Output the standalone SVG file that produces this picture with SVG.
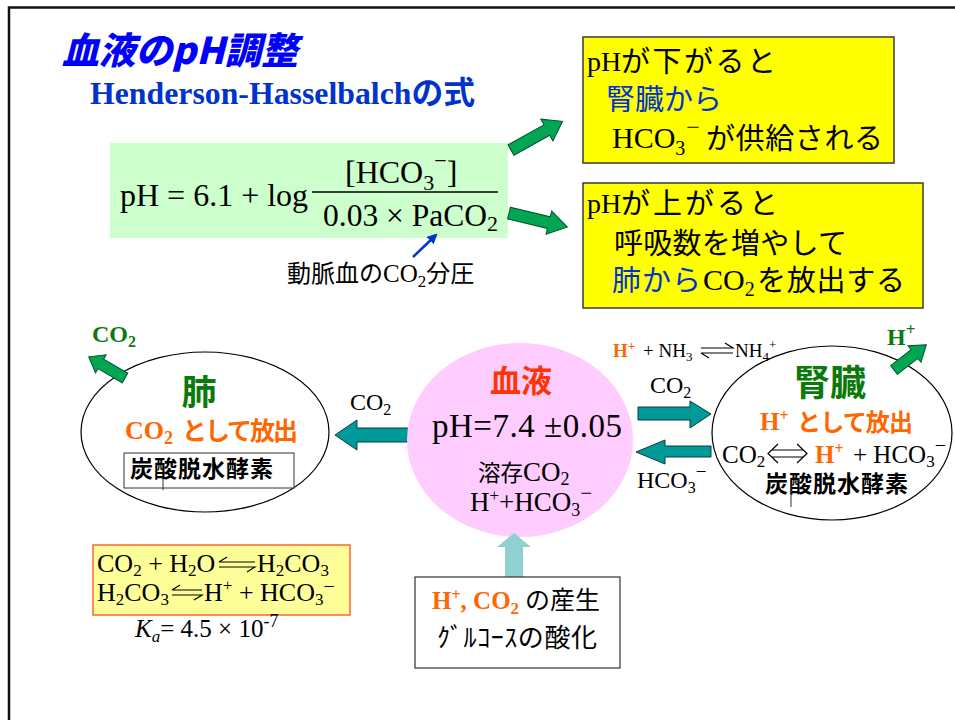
<svg xmlns="http://www.w3.org/2000/svg" width="955" height="720" viewBox="0 0 955 720">
<defs>
<style>
.t{font-family:"Liberation Serif","Noto Sans CJK JP",serif}
.g{font-family:"Noto Sans CJK JP",sans-serif}
.b{font-weight:bold}
.org{fill:#FF6600}
.grn{fill:#0B7A0B}
.blu{fill:#0033CC}
.fat{fill:#00A651;stroke:#00512A;stroke-width:1}
.teal{fill:#009999;stroke:#0D3B3B;stroke-width:1}
.eq{fill:none;stroke:#000;stroke-width:1.2}
.ybox{fill:#FFFF00;stroke:#3A3A3A;stroke-width:1.5}
.frame{fill:none;stroke:#111;stroke-width:2.5}
</style>
<marker id="ah" viewBox="0 0 10 10" refX="8" refY="5" markerWidth="4" markerHeight="4" orient="auto">
<path d="M0,0 L10,5 L0,10 z" fill="#0033CC"/>
</marker>
</defs>
<rect width="955" height="720" fill="#fff"/>
<g id="frame">
<path class="frame" d="M9,720 V7.5 H955"/>
</g>
<g id="title">
<text class="g" x="62" y="64" font-size="37" font-weight="900" font-style="italic" fill="#0000FF" textLength="236" lengthAdjust="spacingAndGlyphs">血液のpH調整</text>
<text class="t b" x="90" y="104" font-size="32" fill="#0033CC" textLength="385" lengthAdjust="spacingAndGlyphs">Henderson-Hasselbalchの式</text>
</g>
<g id="formula">
<rect x="110" y="143" width="398" height="95" fill="#CCFFCC"/>
<text class="t" x="120" y="206" font-size="32">pH = 6.1 + log</text>
<text class="t" x="345" y="183" font-size="32">[HCO<tspan font-size="22" dy="7">3</tspan><tspan font-size="22" dy="-22">−</tspan><tspan dy="15">]</tspan></text>
<line x1="312" y1="192" x2="498" y2="192" stroke="#000" stroke-width="1.5"/>
<text class="t" x="323" y="226" font-size="31.5">0.03 × PaCO<tspan font-size="22" dy="5">2</tspan></text>
<text class="t" x="287" y="282" font-size="25"><tspan class="g" font-size="24">動脈血の</tspan>CO<tspan font-size="17" dy="5">2</tspan><tspan class="g" font-size="24" dy="-5">分圧</tspan></text>
</g>
<g id="box-down">
<rect class="ybox" x="583" y="37" width="311" height="126"/>
<text class="t" x="587" y="71" font-size="28">pH</text>
<text class="g" x="621" y="72" font-size="29" textLength="155">が下がると</text>
<text class="g blu" x="606" y="110" font-size="29" textLength="116">腎臓から</text>
<text class="t" x="612" y="148" font-size="30">HCO<tspan font-size="20" dy="7">3</tspan><tspan font-size="24" dx="1" dy="-20">−</tspan></text>
<text class="g" x="706" y="149" font-size="29" textLength="177">が供給される</text>
</g>
<g id="box-up">
<rect class="ybox" x="583" y="183" width="340" height="125"/>
<text class="t" x="587" y="213" font-size="28">pH</text>
<text class="g" x="621" y="214" font-size="29" textLength="157">が上がると</text>
<text class="g" x="614" y="254" font-size="29" textLength="233">呼吸数を増やして</text>
<text class="g blu" x="612" y="291" font-size="29" textLength="89">肺から</text>
<text class="t" x="703" y="290" font-size="30">CO<tspan font-size="20" dy="6">2</tspan></text>
<text class="g" x="757" y="291" font-size="29" textLength="148">を放出する</text>
</g>
<g id="lung">
<ellipse cx="205" cy="432" rx="124" ry="80" fill="#fff" stroke="#000" stroke-width="1.2"/>
<text class="t b grn" x="92" y="342" font-size="24">CO<tspan font-size="16" dy="5">2</tspan></text>
<text class="g b grn" x="199" y="405" font-size="35" text-anchor="middle">肺</text>
<text class="t b org" x="125" y="439" font-size="26">CO<tspan font-size="18" dy="5">2</tspan></text>
<text class="g b org" x="182" y="440" font-size="25" textLength="116">として放出</text>
<rect x="124" y="453" width="170" height="35" fill="#fff" stroke="#333" stroke-width="1"/>
<text class="g b" x="130" y="477" font-size="23" textLength="143">炭酸脱水酵素</text>
<line x1="163" y1="478" x2="163" y2="490" stroke="#333" stroke-width="1"/>
</g>
<g id="kidney">
<ellipse cx="832" cy="433" rx="120" ry="87" fill="#fff" stroke="#000" stroke-width="1.2"/>
<text class="t b grn" x="887" y="345" font-size="24">H<tspan font-size="17" dy="-10">+</tspan></text>
<text class="g b grn" x="830" y="396" font-size="36" text-anchor="middle">腎臓</text>
<text class="t b org" x="760" y="430" font-size="25">H<tspan font-size="16" dy="-9">+</tspan></text>
<text class="g b org" x="797" y="431" font-size="24" textLength="116">として放出</text>
<text class="t" x="722" y="463" font-size="25">CO<tspan font-size="17" dy="4">2</tspan></text>
<path class="eq" d="M772,450 H803 M772,457 H803 M778,444 L768,453.5 L778,463 M797,444 L807,453.5 L797,463"/>
<text class="t b org" x="815" y="463" font-size="25">H<tspan font-size="16" dy="-9">+</tspan></text>
<text class="t" x="853" y="463" font-size="25">+ HCO<tspan font-size="17" dy="4">3</tspan><tspan font-size="20" dy="-15">−</tspan></text>
<text class="g b" x="765" y="492" font-size="23" textLength="143">炭酸脱水酵素</text>
<line x1="791" y1="484" x2="791" y2="507" stroke="#333" stroke-width="1"/>
<text class="t b org" x="613" y="357" font-size="19">H<tspan font-size="13" dy="-7">+</tspan></text>
<text class="t" x="643" y="357" font-size="19">+ NH<tspan font-size="13" dy="4">3</tspan></text>
<path class="eq" d="M701,348 H733 L725,343 M701,353 H733 M701,353 L709,358"/>
<text class="t" x="735" y="357" font-size="19">NH<tspan font-size="13" dy="4">4</tspan><tspan font-size="13" dy="-12">+</tspan></text>
</g>
<g id="connectors">
<polygon class="fat" points="0,-6 41,-6 41,-12.5 59,0 41,12.5 41,6 0,6" transform="translate(511,150) rotate(-29.1)"/>
<polygon class="fat" points="0,-6 41,-6 41,-12 60,0 41,12 41,6 0,6" transform="translate(509,213) rotate(13.6)"/>
<polygon class="fat" points="0,-5.5 28,-5.5 28,-10.5 42,0 28,10.5 28,5.5 0,5.5" transform="translate(125,378) rotate(-149.7)"/>
<polygon class="fat" points="0,-5.5 26,-5.5 26,-10.5 41,0 26,10.5 26,5.5 0,5.5" transform="translate(894,370) rotate(-38)"/>
<line x1="413" y1="257" x2="436" y2="235" stroke="#0033CC" stroke-width="2.5" marker-end="url(#ah)"/>
<polygon class="teal" points="409,428 357,428 357,420 335,435 357,450 357,442 409,442"/>
<polygon class="teal" points="638,407 690,407 690,401 711,414 690,428 690,420 638,420"/>
<polygon class="teal" points="711,446 665,446 665,440 636,452 665,464 665,457 711,457"/>
<text class="t" x="350" y="410" font-size="24">CO<tspan font-size="16" dy="5">2</tspan></text>
<text class="t" x="650" y="393" font-size="24">CO<tspan font-size="16" dy="5">2</tspan></text>
<text class="t" x="637" y="488" font-size="24">HCO<tspan font-size="16" dy="5">3</tspan><tspan font-size="19" dy="-15">−</tspan></text>
</g>
<g id="blood">
<ellipse cx="520" cy="440" rx="113" ry="97" fill="#FFCCFF"/>
<text class="g b" x="521" y="392" font-size="31" fill="#FF3300" text-anchor="middle">血液</text>
<text class="t" x="432" y="437" font-size="33" textLength="190">pH=7.4  ±0.05</text>
<text class="g" x="478" y="481" font-size="22.5">溶存</text>
<text class="t" x="523" y="481" font-size="27">CO<tspan font-size="18" dy="4">2</tspan></text>
<text class="t" x="470" y="511" font-size="27">H<tspan font-size="17" dy="-10">+</tspan><tspan dy="10">+HCO</tspan><tspan font-size="18" dy="5">3</tspan><tspan font-size="21" dy="-16">−</tspan></text>
</g>
<g id="source-arrow">
<polygon points="505,578 505,547 497,547 514,533 531,547 523,547 523,578" fill="#8FD0D0"/>
</g>
<g id="reaction-box">
<rect x="93" y="545" width="257" height="70" fill="#FFFF99" stroke="#FF6633" stroke-width="1.5"/>
<text class="t" x="97" y="572" font-size="26">CO<tspan font-size="17" dy="4">2</tspan><tspan dy="-4"> + H</tspan><tspan font-size="17" dy="4">2</tspan><tspan dy="-4">O</tspan></text>
<path class="eq" d="M219,562 H255 M219,562 L227,557 M219,567 H255 L247,572"/>
<text class="t" x="257" y="572" font-size="26">H<tspan font-size="17" dy="4">2</tspan><tspan dy="-4">CO</tspan><tspan font-size="17" dy="4">3</tspan></text>
<text class="t" x="97" y="601" font-size="26">H<tspan font-size="17" dy="4">2</tspan><tspan dy="-4">CO</tspan><tspan font-size="17" dy="4">3</tspan></text>
<path class="eq" d="M172,590 H202 M172,590 L180,585 M172,595 H202 L194,600"/>
<text class="t" x="204" y="601" font-size="26">H<tspan font-size="17" dy="-10">+</tspan><tspan dy="10"> + HCO</tspan><tspan font-size="17" dy="4">3</tspan><tspan font-size="20" dy="-12">−</tspan></text>
<text class="t" x="135" y="637" font-size="25"><tspan font-style="italic">K</tspan><tspan font-style="italic" font-size="17" dy="5">a</tspan><tspan dy="-5">= 4.5 × 10</tspan><tspan font-size="18" dy="-10">-7</tspan></text>
</g>
<g id="source-box">
<rect x="415" y="577" width="205" height="91" fill="#fff" stroke="#333" stroke-width="1.2"/>
<text class="t b org" x="432" y="609" font-size="25">H<tspan font-size="16" dy="-9">+</tspan><tspan dy="9">, CO</tspan><tspan font-size="17" dy="5">2</tspan></text>
<text class="g" x="525" y="609" font-size="25" textLength="75">の産生</text>
<text class="g" x="437" y="647" font-size="26" textLength="160">ｸﾞﾙｺｰｽの酸化</text>
</g>
</svg>
